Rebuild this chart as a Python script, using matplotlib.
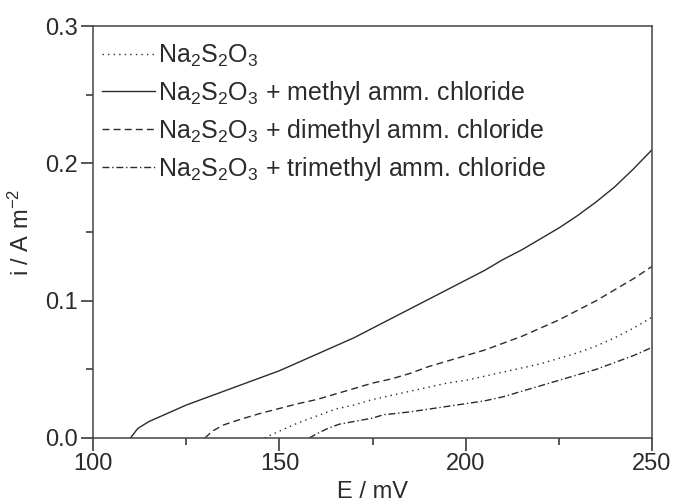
import matplotlib.pyplot as plt
from matplotlib.ticker import MultipleLocator

plt.rcParams['font.family'] = ['Liberation Sans', 'DejaVu Sans']
plt.rcParams['mathtext.fontset'] = 'custom'
plt.rcParams['mathtext.rm'] = 'Liberation Sans'
plt.rcParams['mathtext.it'] = 'Liberation Sans'

# --- dados ---
E_na = [146, 150, 155, 160, 165, 170, 175, 180, 185, 190, 195, 200, 205, 210,
        215, 220, 225, 230, 235, 240, 245, 250]
i_na = [0.0, 0.005, 0.011, 0.016, 0.021, 0.024, 0.028, 0.031, 0.034, 0.037,
        0.040, 0.042, 0.045, 0.048, 0.051, 0.054, 0.058, 0.062, 0.067, 0.073,
        0.080, 0.088]

E_me = [110, 112, 115, 120, 125, 130, 135, 140, 145, 150, 155, 160, 165, 170,
        175, 180, 185, 190, 195, 200, 205, 210, 215, 220, 225, 230, 235, 240,
        245, 250]
i_me = [0.0, 0.007, 0.012, 0.018, 0.024, 0.029, 0.034, 0.039, 0.044, 0.049,
        0.055, 0.061, 0.067, 0.073, 0.080, 0.087, 0.094, 0.101, 0.108, 0.115,
        0.122, 0.130, 0.137, 0.145, 0.153, 0.162, 0.172, 0.183, 0.196, 0.210]

E_dme = [130, 132, 135, 140, 145, 150, 155, 160, 165, 170, 175, 180, 185, 190,
         195, 200, 205, 210, 215, 220, 225, 230, 235, 240, 245, 250]
i_dme = [0.0, 0.005, 0.0095, 0.014, 0.018, 0.0215, 0.025, 0.028, 0.032, 0.036,
         0.040, 0.043, 0.047, 0.052, 0.056, 0.060, 0.064, 0.069, 0.074, 0.080,
         0.086, 0.093, 0.100, 0.108, 0.116, 0.125]

E_tme = [158, 160, 163, 166, 170, 175, 178, 180, 185, 190, 195, 200, 205, 210,
         215, 220, 225, 230, 235, 240, 245, 250]
i_tme = [0.0, 0.003, 0.007, 0.010, 0.012, 0.0145, 0.017, 0.0175, 0.019, 0.021,
         0.023, 0.025, 0.027, 0.030, 0.034, 0.038, 0.042, 0.046, 0.050, 0.055,
         0.060, 0.066]

labels = [r'Na$_2$S$_2$O$_3$',
          r'Na$_2$S$_2$O$_3$ + methyl amm. chloride',
          r'Na$_2$S$_2$O$_3$ + dimethyl amm. chloride',
          r'Na$_2$S$_2$O$_3$ + trimethyl amm. chloride']

cor = '#2b2b2b'

fig = plt.figure(figsize=(6.75, 5.04), dpi=100)
ax = fig.add_axes([0.138, 0.131, 0.828, 0.817])

ax.plot(E_na, i_na, color=cor, lw=1.0, linestyle=(0, (1, 3)), label=labels[0])
ax.plot(E_me, i_me, color=cor, lw=1.0, linestyle='-', label=labels[1])
ax.plot(E_dme, i_dme, color=cor, lw=1.0, linestyle=(0, (5, 3)), label=labels[2])
ax.plot(E_tme, i_tme, color=cor, lw=1.0, linestyle=(0, (5, 2, 1, 2)), label=labels[3])

ax.set_xlim(100, 250)
ax.set_ylim(0, 0.3)
ax.xaxis.set_major_locator(MultipleLocator(50))
ax.xaxis.set_minor_locator(MultipleLocator(25))
ax.yaxis.set_major_locator(MultipleLocator(0.1))
ax.yaxis.set_minor_locator(MultipleLocator(0.05))
ax.yaxis.set_major_formatter(plt.FormatStrFormatter('%.1f'))

ax.tick_params(which='major', direction='out', length=9, width=1.1,
               labelsize=17, colors=cor, pad=2)
ax.tick_params(which='minor', direction='out', length=5, width=1.1, colors=cor)
for s in ax.spines.values():
    s.set_linewidth(1.1)
    s.set_color('#444444')

ax.set_xlabel('E / mV', fontsize=17, color=cor, labelpad=4)
ax.set_ylabel(r'i / A m$^{-2}$', fontsize=17, color=cor, labelpad=8)

ax.legend(loc='upper left', bbox_to_anchor=(0.016, 0.96), frameon=False,
          fontsize=18, handlelength=2.1, handletextpad=0.12, labelspacing=0.4,
          borderaxespad=0, borderpad=0, labelcolor=cor)

plt.savefig('out.png', dpi=100)
